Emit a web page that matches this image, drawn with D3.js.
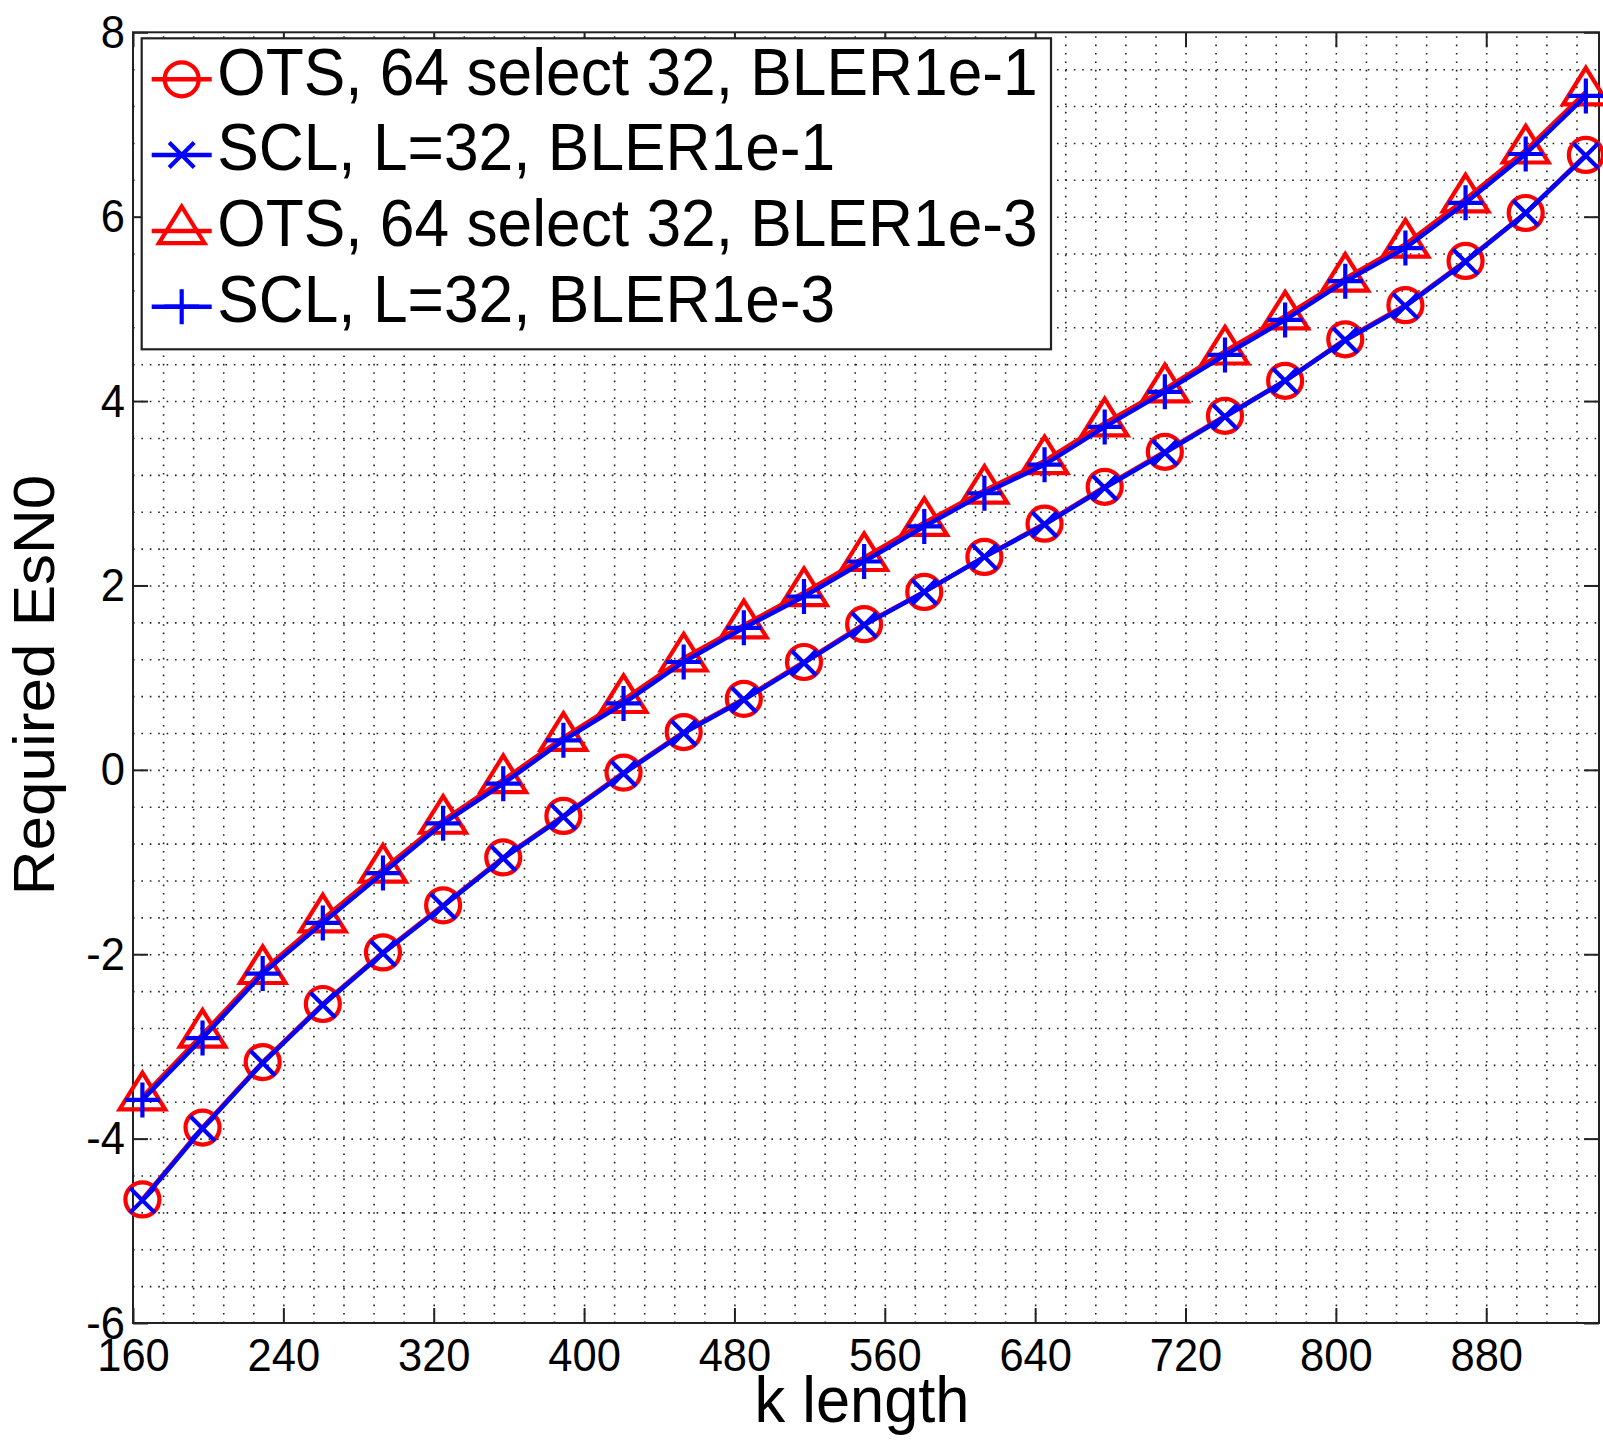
<!DOCTYPE html>
<html>
<head>
<meta charset="utf-8">
<script src="https://cdn.jsdelivr.net/npm/d3@7"></script>
<style>
  body { margin: 0; background: #fff; }
  text { font-family: "Liberation Sans", Arial, Helvetica, sans-serif; fill: #000; }
</style>
</head>
<body>
<div id="chart"></div>
<script>
// data
const kLength = [165, 197, 229, 261, 293, 325, 357, 389, 421, 453, 485, 517, 549,
    581, 613, 645, 677, 709, 741, 773, 805, 837, 869, 901, 933];
const otsBler1 = [-4.66, -3.88, -3.17, -2.54, -1.98, -1.47, -0.95, -0.50, -0.03, 0.41, 0.77, 1.17, 1.58,
    1.93, 2.31, 2.67, 3.07, 3.45, 3.84, 4.22, 4.67, 5.04, 5.52, 6.04, 6.67];
const sclBler1 = [-4.67, -3.89, -3.18, -2.55, -1.99, -1.48, -0.96, -0.51, -0.04, 0.40, 0.76, 1.16, 1.57,
    1.93, 2.31, 2.66, 3.06, 3.44, 3.83, 4.22, 4.66, 5.03, 5.51, 6.04, 6.66];
const otsBler3 = [-3.55, -2.87, -2.18, -1.62, -1.08, -0.55, -0.11, 0.35, 0.76, 1.21, 1.57, 1.92, 2.30,
    2.68, 3.03, 3.35, 3.76, 4.13, 4.54, 4.92, 5.33, 5.70, 6.19, 6.72, 7.35];
const sclBler3 = [-3.58, -2.91, -2.21, -1.66, -1.12, -0.58, -0.15, 0.32, 0.72, 1.17, 1.54, 1.88, 2.26,
    2.64, 3.00, 3.31, 3.72, 4.10, 4.50, 4.88, 5.30, 5.66, 6.15, 6.68, 7.31];
const seriesNames = ["OTS, 64 select 32, BLER1e-1", "SCL, L=32, BLER1e-1",
    "OTS, 64 select 32, BLER1e-3", "SCL, L=32, BLER1e-3"];
const xTicks = [160, 240, 320, 400, 480, 560, 640, 720, 800, 880];
const yTicks = [-6, -4, -2, 0, 2, 4, 6, 8];

// marker shapes
const markers = {
    circle: "M17,0A17,17 0 1,1 -17,0A17,17 0 1,1 17,0Z",
    cross: "M-12.5,-12.5L12.5,12.5M-12.5,12.5L12.5,-12.5",
    triangle: "M0,-24.4L22.8,12.2L-22.8,12.2Z",
    plus: "M-17.5,0H17.5M0,-17.5V17.5"
};
const series = [
    { name: seriesNames[0], values: otsBler1, color: "#ff0000", marker: "circle" },
    { name: seriesNames[1], values: sclBler1, color: "#0000ff", marker: "cross" },
    { name: seriesNames[2], values: otsBler3, color: "#ff0000", marker: "triangle" },
    { name: seriesNames[3], values: sclBler3, color: "#0000ff", marker: "plus" }
];

// set the dimensions and margins of the graph
const margin = { top: 32.3, right: 4, bottom: 119, left: 133 },
    width = 1603 - margin.left - margin.right,
    height = 1442 - margin.top - margin.bottom;

const svg = d3.select("#chart")
    .append("svg")
    .attr("width", 1603)
    .attr("height", 1442);

const g = svg.append("g")
    .attr("transform", `translate(${margin.left},${margin.top})`);

const x = d3.scaleLinear().domain([160, 940]).range([0, width]);
const y = d3.scaleLinear().domain([-6, 8]).range([height, 0]);

// dotted grid (major + minor)
const xGrid = d3.range(176, 940, 16);
const yGrid = d3.range(1, 35).map(i => -6 + i * 0.4);
g.append("g")
    .attr("transform", `translate(0,${height})`)
    .call(d3.axisBottom(x).tickValues(xGrid).tickSize(-height).tickFormat(""))
    .call(a => a.select(".domain").remove())
    .selectAll("line")
    .attr("stroke", "#222").attr("stroke-width", 1.6).attr("stroke-dasharray", "1.6,6.8");
g.append("g")
    .call(d3.axisLeft(y).tickValues(yGrid).tickSize(-width).tickFormat(""))
    .call(a => a.select(".domain").remove())
    .selectAll("line")
    .attr("stroke", "#222").attr("stroke-width", 1.6).attr("stroke-dasharray", "1.6,6.8");

// axes with inward ticks
const xAxis = g.append("g")
    .attr("transform", `translate(0,${height})`)
    .call(d3.axisBottom(x).tickValues(xTicks).tickSizeInner(-15).tickSizeOuter(0).tickFormat(d => String(d)));
xAxis.selectAll("text")
    .attr("y", null).attr("dy", null)
    .attr("transform", "translate(0,48) scale(1,1.07)")
    .style("font-size", "43.5px");

const yAxis = g.append("g")
    .call(d3.axisLeft(y).tickValues(yTicks).tickSizeInner(-15).tickSizeOuter(0).tickFormat(d => String(d)));
yAxis.selectAll("text")
    .attr("x", null).attr("dy", null)
    .attr("transform", "translate(-8,15) scale(1,1.07)")
    .style("font-size", "43.5px");

g.append("g")
    .call(d3.axisTop(x).tickValues(xTicks).tickSizeInner(-15).tickSizeOuter(0).tickFormat(""));
g.append("g")
    .attr("transform", `translate(${width},0)`)
    .call(d3.axisRight(y).tickValues(yTicks).tickSizeInner(-15).tickSizeOuter(0).tickFormat(""));

g.selectAll(".domain").remove();
g.selectAll(".tick line").filter(function () { return !this.getAttribute("stroke-dasharray"); })
    .attr("stroke", "#222").attr("stroke-width", 2);
g.selectAll(".tick text").attr("fill", "#000");

// axes box
g.append("rect")
    .attr("width", width).attr("height", height)
    .attr("fill", "none").attr("stroke", "#222").attr("stroke-width", 2);

// the series
const line = d3.line()
    .x((d, i) => x(kLength[i]))
    .y(d => y(d));

series.forEach(s => {
    const sg = g.append("g");
    sg.append("path")
        .datum(s.values)
        .attr("d", line)
        .attr("fill", "none")
        .attr("stroke", s.color)
        .attr("stroke-width", 4.5)
        .attr("stroke-linejoin", "round");
    sg.selectAll(".marker")
        .data(s.values)
        .join("path")
        .attr("class", "marker")
        .attr("transform", (d, i) => `translate(${x(kLength[i])},${y(d)})`)
        .attr("d", markers[s.marker])
        .attr("fill", "none")
        .attr("stroke", s.color)
        .attr("stroke-width", 4.2);
});

// legend
const legend = svg.append("g").attr("transform", "translate(141.7,38.3)");
legend.append("rect")
    .attr("width", 909.3).attr("height", 311)
    .attr("fill", "#fff").attr("stroke", "#222").attr("stroke-width", 2.2);

const rows = legend.selectAll(".row")
    .data(series)
    .join("g")
    .attr("class", "row")
    .attr("transform", (d, i) => `translate(0,${41 + i * 75.8})`);
rows.append("line")
    .attr("x1", 10).attr("x2", 70)
    .attr("stroke", d => d.color).attr("stroke-width", 4.5);
rows.append("path")
    .attr("transform", "translate(40,0)")
    .attr("d", d => markers[d.marker])
    .attr("fill", "none")
    .attr("stroke", d => d.color)
    .attr("stroke-width", 4.2);
rows.append("text")
    .attr("transform", "translate(75.5,15.3) scale(1,1.07)")
    .style("font-size", "62.3px")
    .text(d => d.name);

// axis labels
svg.append("text")
    .attr("text-anchor", "middle")
    .attr("transform", "translate(862,1421.7) scale(1,1.07)")
    .style("font-size", "61.4px")
    .text("k length");

svg.append("text")
    .attr("text-anchor", "middle")
    .attr("transform", "translate(54,685) rotate(-90) scale(1.07,1)")
    .style("font-size", "58px")
    .text("Required EsN0");
</script>
</body>
</html>
